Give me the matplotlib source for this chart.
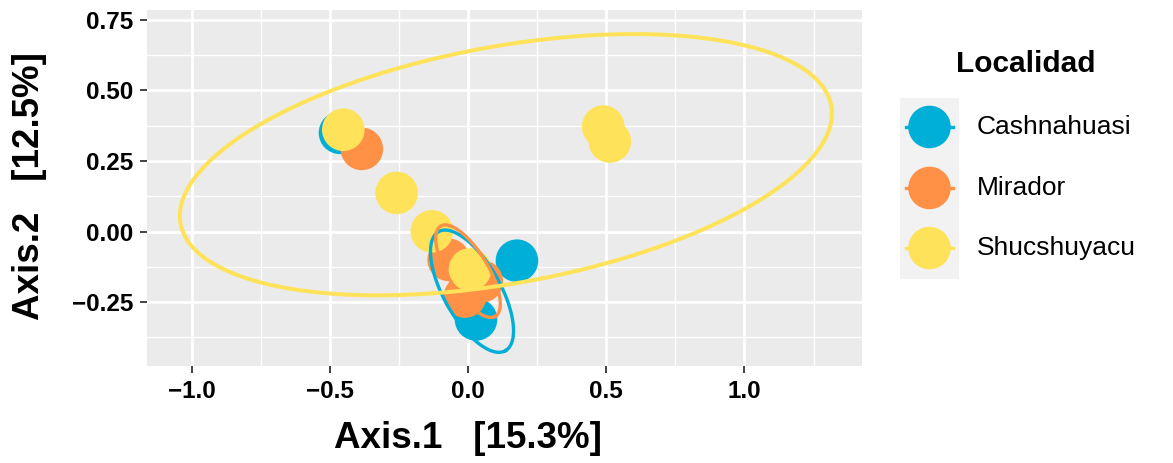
import numpy as np
import matplotlib
matplotlib.use("Agg")
import matplotlib.pyplot as plt

plt.rcParams['font.family'] = ['Liberation Sans', 'DejaVu Sans']

# ── Data ──────────────────────────────────────────────────────
groups = ['Cashnahuasi', 'Mirador', 'Shucshuyacu']
colors = ['#00AFD7', '#FE9145', '#FEE35A']

cash_x = [-0.463, 0.177, 0.029]
cash_y = [0.350, -0.103, -0.311]

mir_x = [-0.384, -0.070, 0.050, -0.011]
mir_y = [0.293, -0.100, -0.176, -0.230]

shuc_x = [-0.451, -0.258, -0.131, 0.007, 0.489, 0.513]
shuc_y = [0.361, 0.137, 0.001, -0.134, 0.372, 0.319]

# ellipse per group: centre, semi-axes, angle (deg)
ell_cx = [0.0145, 0.0, 0.137]
ell_cy = [-0.211, -0.140, 0.237]
ell_a = [0.243, 0.188, 1.195]
ell_b = [0.102, 0.072, 0.420]
ell_ang = [-60.0, -58.0, 10.0]

xticks = [-1.0, -0.5, 0.0, 0.5, 1.0]
yticks = [-0.25, 0.0, 0.25, 0.50, 0.75]
xtick_labels = ['\u22121.0', '\u22120.5', '0.0', '0.5', '1.0']
ytick_labels = ['\u22120.25', '0.00', '0.25', '0.50', '0.75']

xs = [cash_x, mir_x, shuc_x]
ys = [cash_y, mir_y, shuc_y]

# ── Figure ───────────────────────────────────────────────────
W, H = 1173, 463
fig = plt.figure(figsize=(W / 100, H / 100), dpi=100)
ax = fig.add_axes([147 / W, 1 - 366 / H, 715 / W, 356 / H])
ax.set_facecolor('#EBEBEB')
for s in ax.spines.values():
    s.set_visible(False)

ax.set_xlim(-1.161, 1.425)
ax.set_ylim(-0.476, 0.785)
ax.set_xticks(xticks)
ax.set_xticklabels(xtick_labels)
ax.set_yticks(yticks)
ax.set_yticklabels(ytick_labels)
ax.set_xticks([-0.75, -0.25, 0.25, 0.75, 1.25], minor=True)
ax.set_yticks([-0.375, -0.125, 0.125, 0.375, 0.625], minor=True)
ax.grid(which='major', color='white', lw=2.0)
ax.grid(which='minor', color='white', lw=1.0)
ax.set_axisbelow(True)
ax.tick_params(which='major', length=5, width=1.3, color='#333333', pad=5,
               labelsize=17.5)
ax.tick_params(which='minor', length=0)
for lab in ax.get_xticklabels() + ax.get_yticklabels():
    lab.set_fontweight('bold')

size = 940
for x, y, c in zip(xs, ys, colors):
    ax.scatter(x, y, s=size, color=c, edgecolors='none', zorder=3)

t = np.linspace(0, 2 * np.pi, 300)
lws = [2.4, 2.4, 2.9]
for cx, cy, a, b, ang, c, lw in zip(ell_cx, ell_cy, ell_a, ell_b, ell_ang, colors, lws):
    th = np.deg2rad(ang)
    ex = cx + a * np.cos(t) * np.cos(th) - b * np.sin(t) * np.sin(th)
    ey = cy + a * np.cos(t) * np.sin(th) + b * np.sin(t) * np.cos(th)
    ax.plot(ex, ey, color=c, lw=lw, zorder=4)

ax.set_xlabel('Axis.1   [15.3%]', fontsize=26.5, fontweight='bold')
ax.set_ylabel('Axis.2   [12.5%]', fontsize=26.5, fontweight='bold')
ax.xaxis.set_label_coords((467.5 - 147) / 715, (366 - 438) / 356)
ax.xaxis.label.set_va('center')
ax.yaxis.set_label_coords((29.5 - 147) / 715, (366 - 186) / 356)
ax.yaxis.label.set_va('center')

# ── Legend ───────────────────────────────────────────────────
fig.text(956 / W, 1 - 64 / H, 'Localidad', fontsize=21.5, fontweight='bold',
         ha='left', va='center')
lax = fig.add_axes([900 / W, 1 - 279 / H, 59 / W, 181 / H])
lax.set_facecolor('#F2F2F2')
lax.set_xlim(0, 1)
lax.set_ylim(0, 1)
lax.set_xticks([])
lax.set_yticks([])
for s in lax.spines.values():
    s.set_visible(False)
key_y = [0.840, 0.503, 0.171]
for ky, c, g in zip(key_y, colors, groups):
    lax.plot([0.1, 0.9], [ky, ky], color=c, lw=2.4)
    lax.scatter([0.5], [ky], s=size, color=c, edgecolors='none', zorder=3)
    fig.text(977 / W, (1 - 279 / H) + ky * 181 / H, g, fontsize=19,
             ha='left', va='center')

fig.savefig('out.png', dpi=100)
